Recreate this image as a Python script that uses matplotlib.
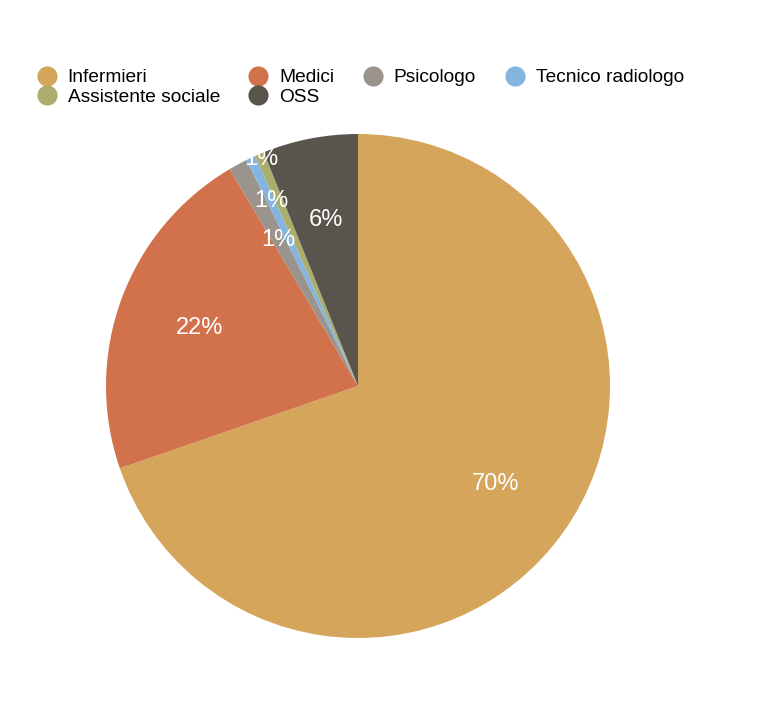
import numpy as np
import matplotlib.pyplot as plt
from matplotlib.lines import Line2D

plt.rcParams['font.family'] = ['Liberation Sans', 'DejaVu Sans']

labels = ['Infermieri', 'Medici', 'Psicologo', 'Tecnico radiologo',
          'Assistente sociale', 'OSS']
values = [69.7, 21.8, 1.2, 0.6, 0.6, 6.1]
colors = ['#D4A55A', '#D2724C', '#9A948C', '#84B5E0', '#ABAD6D', '#59544C']

W, H = 767, 715
fig = plt.figure(figsize=(W / 100, H / 100), dpi=100)

# pie centre and radius in pixels
cx, cy, r = 358, 386, 252
ax = fig.add_axes([(cx - r) / W, (H - cy - r) / H, 2 * r / W, 2 * r / H])
wedges, texts, autotexts = ax.pie(
    values, colors=colors, startangle=90, counterclock=False,
    autopct='%.0f%%', pctdistance=0.67,
    textprops=dict(color='white', fontsize=17))
ax.set_xlim(-1, 1)
ax.set_ylim(-1, 1)
ax.set_aspect('equal')

# spread out the labels of the tiny slices
small_r = {2: 0.66, 3: 0.81, 4: 0.98}
for i, rad in small_r.items():
    w = wedges[i]
    ang = np.deg2rad((w.theta1 + w.theta2) / 2)
    autotexts[i].set_position((rad * np.cos(ang), rad * np.sin(ang)))

# legend (matplotlib fills columns first)
order = [0, 4, 1, 5, 2, 3]
handles = [Line2D([], [], ls='none', marker='o', markersize=14.5,
                  markerfacecolor=colors[i], markeredgewidth=0)
           for i in order]
fig.legend(handles, [labels[i] for i in order], ncol=4, frameon=False,
           loc='upper left', bbox_to_anchor=(36 / W, 1 - 69 / H),
           fontsize=13.8, handlelength=1.1, handletextpad=0.55,
           columnspacing=1.45, labelspacing=0.1, borderpad=0,
           borderaxespad=0)

fig.savefig('out.png', dpi=100)
